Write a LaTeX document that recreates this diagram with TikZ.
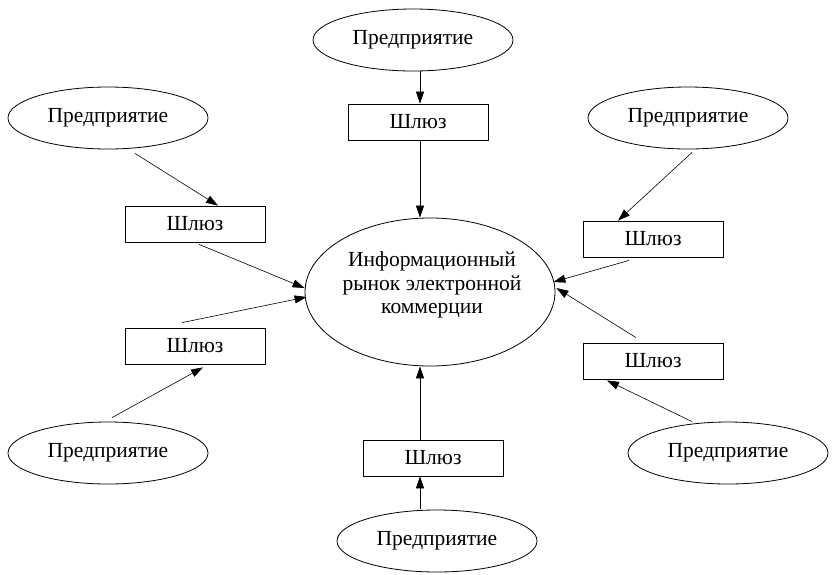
\documentclass[tikz,border=0pt]{standalone}
\usepackage{fontspec}
\setmainfont{Liberation Serif}
\usetikzlibrary{shapes.geometric,arrows.meta}
\begin{document}
\begin{tikzpicture}[x=1pt,y=-1pt,
  every node/.style={font=\fontsize{21.5}{23.5}\selectfont, inner sep=0pt},
  ent/.style={draw, line width=0.8pt, ellipse, minimum width=200pt, minimum height=62pt},
  gate/.style={draw, line width=0.8pt, rectangle, minimum width=140pt, minimum height=36pt},
  hub/.style={draw, line width=0.8pt, ellipse, minimum width=250pt, minimum height=148pt},
  arr/.style={line width=0.6pt, -{Triangle[length=12pt,width=8pt]}}]
\useasboundingbox (0,0) rectangle (832,574);
% central
\node[hub] (C) at (430,292) {};
\node[align=center] (Ct) at (432,285) {Информационный\\рынок электронной\\коммерции};
% enterprises
\node[ent] (E1) at (413,40) {Предприятие};
\node[ent] (E2) at (108,118) {Предприятие};
\node[ent] (E3) at (108,453) {Предприятие};
\node[ent] (E4) at (437,541) {Предприятие};
\node[ent] (E5) at (688,118) {Предприятие};
\node[ent] (E6) at (728,453) {Предприятие};
% gateways
\node[gate] (B1) at (418,122) {Шлюз};
\node[gate] (B2) at (195,224) {Шлюз};
\node[gate] (B3) at (195,346) {Шлюз};
\node[gate] (B4) at (433,458) {Шлюз};
\node[gate] (B5) at (653,239) {Шлюз};
\node[gate] (B6) at (653,361) {Шлюз};
% arrows
\draw[arr] ([xshift=7pt]E1.south) -- ([xshift=2pt]B1.north);
\draw[arr] ([xshift=2pt]B1.south) -- ([xshift=-10pt]C.north);
\draw[arr] ([xshift=27pt,yshift=-4pt]E2.south) -- ([xshift=23pt]B2.north);
\draw[arr] ([xshift=4pt,yshift=-2pt]B2.south) -- ([yshift=4pt]C.west);
\draw[arr] ([xshift=-13pt,yshift=5pt]B3.north) -- ([xshift=2pt,yshift=-5pt]C.west);
\draw[arr] ([xshift=4pt,yshift=4pt]E3.north) -- ([xshift=8pt,yshift=-3pt]B3.south);
\draw[arr] ([xshift=-13pt]B4.north) -- ([xshift=-10pt]C.south);
\draw[arr] ([xshift=-17pt,yshift=1pt]E4.north) -- ([xshift=-13pt]B4.south);
\draw[arr] ([xshift=4pt,yshift=-3pt]E5.south) -- ([xshift=-35pt]B5.north);
\draw[arr] ([xshift=-24pt,yshift=-3pt]B5.south) -- ([xshift=-2pt,yshift=10pt]C.east);
\draw[arr] ([xshift=-17pt,yshift=5pt]B6.north) -- ([xshift=1pt,yshift=4pt]C.east);
\draw[arr] ([xshift=-36pt]E6.north) -- ([xshift=-46pt,yshift=-1pt]B6.south);
\end{tikzpicture}
\end{document}
